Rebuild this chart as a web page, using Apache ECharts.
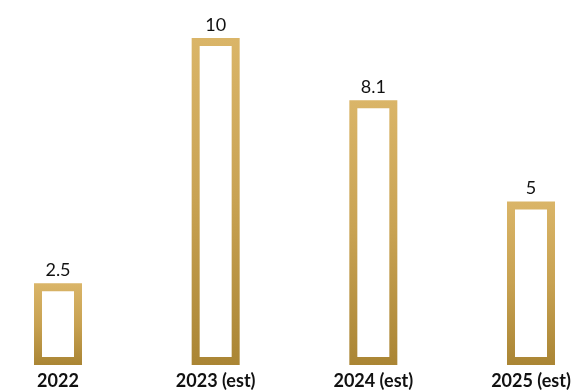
<!DOCTYPE html>
<html>
<head>
<meta charset="utf-8">
<script src="https://cdn.jsdelivr.net/npm/echarts@6/dist/echarts.min.js"></script>
<style>
html,body{margin:0;padding:0;background:#fff;}
#chart{width:586px;height:392px;}
</style>
</head>
<body>
<div id="chart"></div>
<script>
const categories = ['2022', '2023 (est)', '2024 (est)', '2025 (est)'];
const values = [2.5, 10, 8.1, 5];
const valueLabels = ['2.5', '10', '8.1', '5'];

const FONT = 'Lato, "Open Sans", sans-serif';
const chart = echarts.init(document.getElementById('chart'));

function renderItem(params, api) {
  const i = api.value(0);
  const v = api.value(1);
  const top = api.coord([i, v]);
  const base = api.coord([i, 0]);
  const bw = 8;
  const outerW = 48;
  const cx = top[0];
  return {
    type: 'group',
    children: [
      {
        type: 'rect',
        shape: {
          x: cx - outerW / 2 + bw / 2,
          y: top[1] + bw / 2,
          width: outerW - bw,
          height: base[1] - top[1] - bw
        },
        style: {
          fill: '#ffffff',
          stroke: new echarts.graphic.LinearGradient(0, 0, 0, 1, [
            { offset: 0, color: '#DAB568' },
            { offset: 0.5, color: '#C8A252' },
            { offset: 1, color: '#AA8534' }
          ]),
          lineWidth: bw
        }
      },
      {
        type: 'text',
        style: {
          text: valueLabels[i],
          x: cx,
          y: top[1] - 4,
          align: 'center',
          verticalAlign: 'bottom',
          fontSize: 18,
          fontFamily: FONT,
          fill: '#111111'
        }
      }
    ]
  };
}

chart.setOption({
  animation: false,
  backgroundColor: '#ffffff',
  grid: { left: 58, right: 55, top: 38, bottom: 27, containLabel: false },
  xAxis: {
    type: 'category',
    data: categories,
    boundaryGap: false,
    axisLine: { show: false },
    axisTick: { show: false },
    splitLine: { show: false },
    axisLabel: {
      margin: 7,
      fontSize: 18,
      fontWeight: 'bold',
      fontFamily: FONT,
      color: '#111111',
      interval: 0
    }
  },
  yAxis: {
    type: 'value',
    min: 0,
    max: 10,
    show: false
  },
  series: [{
    type: 'custom',
    renderItem: renderItem,
    data: values.map((v, i) => [i, v]),
    clip: false
  }]
});
</script>
</body>
</html>
